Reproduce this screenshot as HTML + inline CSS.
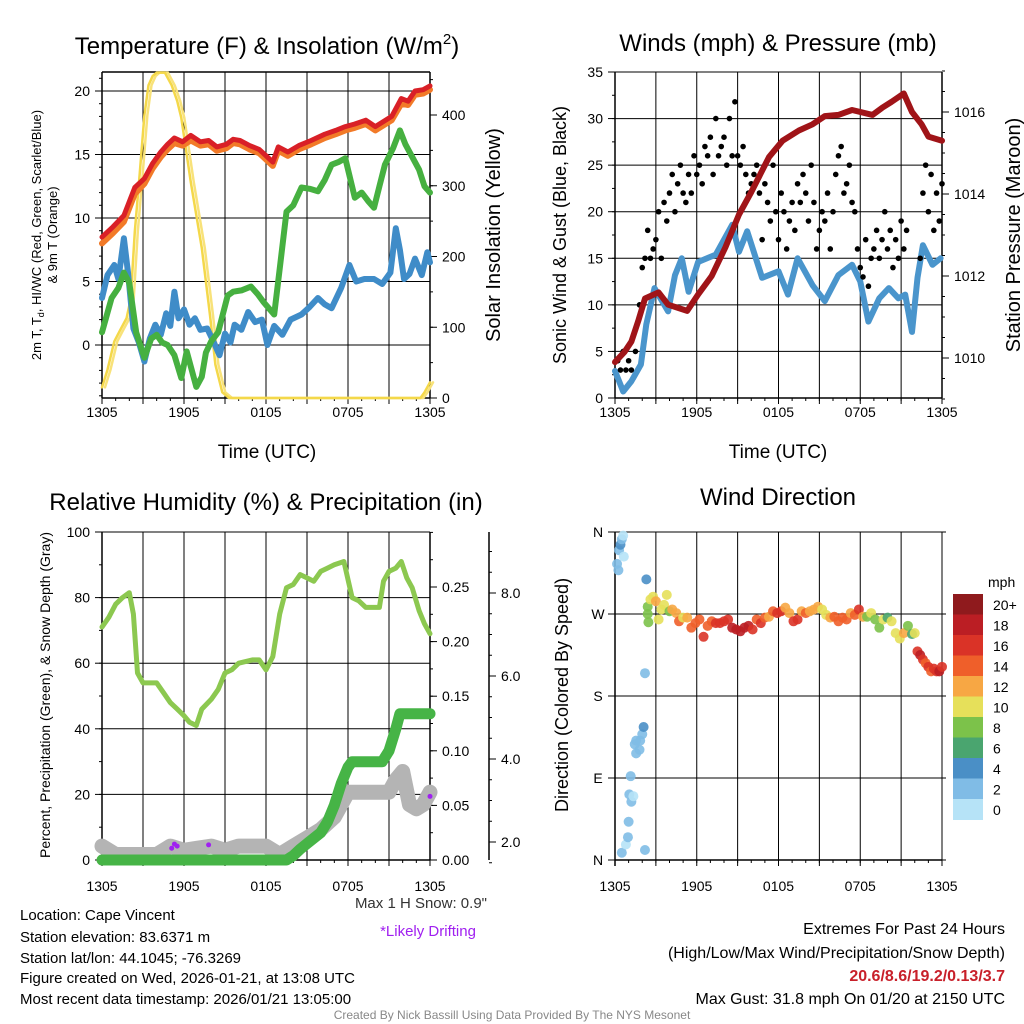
<!DOCTYPE html>
<html><head><meta charset="utf-8"><style>
body{margin:0;background:#fff}
svg{display:block;font-family:"Liberation Sans",sans-serif}
</style></head><body>
<svg id="s" width="1024" height="1024" viewBox="0 0 1024 1024">
<rect width="1024" height="1024" fill="#fff"/>
<text x="267" y="54" font-size="24" text-anchor="middle">Temperature (F) &amp; Insolation (W/m<tspan font-size="15" dy="-10">2</tspan><tspan dy="10">)</tspan></text>
<text x="778" y="51" font-size="24" text-anchor="middle">Winds (mph) &amp; Pressure (mb)</text>
<text x="266" y="510" font-size="24" text-anchor="middle">Relative Humidity (%) &amp; Precipitation (in)</text>
<text x="778" y="505" font-size="24" text-anchor="middle">Wind Direction</text>
<text x="267" y="458" font-size="19" text-anchor="middle">Time (UTC)</text>
<text x="778" y="458" font-size="19" text-anchor="middle">Time (UTC)</text>
<text transform="translate(41,235) rotate(-90)" font-size="13" text-anchor="middle">2m T, T<tspan font-size="9" dy="3">d</tspan><tspan dy="-3">, HI/WC (Red, Green, Scarlet/Blue)</tspan></text>
<text transform="translate(57,235) rotate(-90)" font-size="13" text-anchor="middle">&amp; 9m T (Orange)</text>
<text transform="translate(500,235) rotate(-90)" font-size="20" text-anchor="middle">Solar Insolation (Yellow)</text>
<text transform="translate(566,235) rotate(-90)" font-size="18" text-anchor="middle">Sonic Wind &amp; Gust (Blue, Black)</text>
<text transform="translate(1020,235) rotate(-90)" font-size="20" text-anchor="middle">Station Pressure (Maroon)</text>
<text transform="translate(50,695) rotate(-90)" font-size="14" text-anchor="middle">Percent, Precipitation (Green), &amp; Snow Depth (Gray)</text>
<text transform="translate(568,695) rotate(-90)" font-size="18" text-anchor="middle">Direction (Colored By Speed)</text>
<text x="988" y="587" font-size="14">mph</text>
<text x="487" y="908" font-size="15" text-anchor="end" fill="#333">Max 1 H Snow: 0.9"</text>
<text x="428" y="936" font-size="15" text-anchor="middle" fill="#a020f0">*Likely Drifting</text>
<g font-size="15">
<text x="20" y="920">Location: Cape Vincent</text>
<text x="20" y="942">Station elevation: 83.6371 m</text>
<text x="20" y="963">Station lat/lon: 44.1045; -76.3269</text>
<text x="20" y="983">Figure created on Wed, 2026-01-21, at 13:08 UTC</text>
<text x="20" y="1004">Most recent data timestamp: 2026/01/21 13:05:00</text>
</g>
<g font-size="16" text-anchor="end">
<text x="1005" y="934">Extremes For Past 24 Hours</text>
<text x="1005" y="958">(High/Low/Max Wind/Precipitation/Snow Depth)</text>
<text x="1005" y="981" fill="#c8202a" font-weight="bold">20.6/8.6/19.2/0.13/3.7</text>
<text x="1005" y="1004">Max Gust: 31.8 mph On 01/20 at 2150 UTC</text>
</g>
<text x="512" y="1019" font-size="12" fill="#888" text-anchor="middle">Created By Nick Bassill Using Data Provided By The NYS Mesonet</text>
</svg>
<script>
// ---- data ----
const tempT=[0,0.8,1.6,2.4,3.1,3.7,4.3,4.8,5.3,5.9,6.5,7.2,7.8,8.4,9.1,9.6,10.1,10.8,11.5,12.1,12.5,12.9,13.6,14.4,15.3,16.3,17.1,17.8,18.5,19.3,20.0,20.6,21.2,21.9,22.4,22.9,23.5,24];
const tempRed=[8.5,9.3,10.2,12.4,13.1,14.3,15.2,15.8,16.3,16.0,16.5,16.0,16.1,15.6,15.8,16.2,16.1,15.7,15.4,14.8,14.4,15.6,15.2,15.7,16.1,16.6,16.9,17.2,17.4,17.7,17.2,17.6,18.0,19.4,19.2,20.0,20.1,20.4];
const tempOrange=[8.0,8.8,9.7,11.9,12.7,13.9,14.8,15.4,15.9,15.7,16.1,15.7,15.8,15.3,15.5,15.9,15.8,15.4,15.1,14.5,14.1,15.3,14.9,15.4,15.8,16.3,16.6,16.9,17.1,17.4,16.9,17.3,17.7,19.0,18.9,19.7,19.8,20.1];
const dewT=[0,0.7,1.2,1.6,2.0,2.5,3.1,3.6,4.0,4.4,4.8,5.3,5.8,6.2,6.9,7.3,7.6,8.0,8.5,9.2,9.6,10.2,10.9,11.4,11.8,12.6,13.0,13.5,14.0,14.6,15.2,15.8,16.3,16.8,17.3,17.8,18.5,19.0,19.5,19.9,20.3,20.7,21.3,21.8,22.2,22.6,23.2,23.6,24];
const dewG=[1,3.7,4.5,5.7,4.9,1,-1,0.5,0.8,0.2,0,-0.8,-2.6,-0.5,-3.3,-2.5,-0.6,0.3,1,3.9,4.2,4.3,4.6,4.0,3.4,2.4,6,10.5,11,12.4,12.3,12.1,13,14.2,14.4,14.7,11.6,12,11.3,10.8,12.5,14.2,15.5,16.9,15.8,15,13.8,12.5,12.0];
const wcT=[0,0.4,0.9,1.2,1.6,1.9,2.3,2.7,3.1,3.5,3.9,4.3,4.7,5.0,5.3,5.6,6.0,6.4,6.8,7.2,7.7,8.1,8.6,9.0,9.4,9.7,10.2,10.7,11.2,11.7,12.1,12.6,13.2,13.8,14.6,15.2,15.8,16.3,16.8,17.5,18.1,18.6,19.2,19.9,20.5,21.1,21.5,21.8,22.1,22.5,22.9,23.4,23.8,24];
const windChill=[3.7,5.5,6.3,5.2,8.4,5.7,1.3,0.2,-1.3,0.5,1.6,0.8,2.5,1.5,4.2,2.1,2.8,1.6,2.1,1.2,1.3,0.4,-0.8,0.9,0.2,1.6,1.2,2.6,1.8,2.0,0,1.5,0.8,2.0,2.4,3.0,3.7,3.2,2.9,4.5,6.3,5.0,5.2,5.2,4.8,5.7,9.2,7.5,5.2,5.6,6.8,5.5,7.3,6.5];
const solT=[0,0.4,0.9,1.3,1.8,2.1,2.4,2.75,3.1,3.4,3.7,4.0,4.6,5.1,5.5,5.8,6.5,7.3,7.9,8.3,8.8,9.3,23.3,23.6,24];
const solV=[15,40,80,95,113,140,235,315,400,442,455,460,460,442,420,396,305,212,117,47,8,0,0,8,22];
const windT=[0,0.6,1.2,1.9,2.3,2.9,3.9,4.4,4.9,5.4,6.1,7.4,8.6,9.1,9.7,10.8,12.0,12.7,13.4,14.5,15.4,16.4,17.4,18.0,18.6,19.4,20.1,20.8,21.3,21.8,22.2,22.6,23.3,23.9];
const windV=[2.9,0.7,1.8,3.6,7.9,11.8,9.3,13.2,15,11.4,14.6,15.4,18.6,15.7,17.9,12.9,13.6,11.1,15,12.1,10.4,13.2,14.3,12.5,8.2,10.7,11.8,10.7,11.1,7.1,12.9,16.4,14.3,15];
const gustT=[0.2,0.4,0.6,0.8,1,1.2,1.5,1.8,2,2.2,2.4,2.6,2.8,3,3.2,3.4,3.6,3.8,4,4.2,4.4,4.6,4.8,5,5.2,5.4,5.6,5.8,6,6.2,6.4,6.6,6.8,7,7.2,7.4,7.6,7.8,8,8.2,8.4,8.6,8.8,9,9.2,9.4,9.6,9.8,10,10.2,10.4,10.6,10.8,11,11.2,11.4,11.6,11.8,12,12.2,12.4,12.6,12.8,13,13.2,13.4,13.6,13.8,14,14.2,14.4,14.6,14.8,15,15.2,15.4,15.6,15.8,16,16.2,16.4,16.6,16.8,17,17.2,17.4,17.6,17.8,18,18.2,18.4,18.6,18.8,19,19.2,19.4,19.6,19.8,20,20.2,20.4,20.6,20.8,21,21.2,21.4,22.4,22.6,22.8,23,23.2,23.4,23.6,23.8,24];
const gustV=[4,3,5,3,4,3,5,10,14,15,18,15,16,17,20,15,21,19,22,24,20,23,25,22,21,24,22,26,24,25,23,27,26,28,24,30,26,27,28,25,30,26,31.8,26,25,27,24,22,23,24,25,22,17,23,21,19,25,20,17,22,20,16,19,21,18,23,21,24,22,19,25,21,16,18,20,19,22,16,20,24,26,27,22,23,25,21,20,16,14,13,17,12,15,16,18,15,17,20,16,18,14,17,15,19,16,18,15,22,25,20,24,18,22,19,23,21];
const presT=[0,0.7,1.2,1.7,2.2,3.2,3.9,5.3,6.1,7.1,8.1,9.1,10.0,11.3,12.3,13.5,14.5,15.4,16.4,17.4,18.9,19.6,20.3,21.2,21.8,22.5,23.0,24];
const presV=[1009.9,1010.15,1010.4,1010.9,1011.45,1011.6,1011.3,1011.15,1011.55,1012.0,1012.7,1013.5,1014.05,1014.9,1015.3,1015.55,1015.7,1015.9,1015.93,1016.05,1015.93,1016.1,1016.25,1016.45,1016.0,1015.7,1015.4,1015.3];
const rhT=[0,0.5,1,1.5,2,2.3,2.6,3,4,4.5,5,5.5,6,6.4,6.9,7.3,8,8.5,9,9.5,10,11,11.5,12,12.5,13,13.5,14,14.5,15,15.5,16,16.5,17,17.7,18.3,18.8,19.3,19.8,20.3,20.6,21,21.5,21.9,22.3,22.7,23.2,23.6,24];
const rhV=[71,74,78,80,81.5,75,57,54,54,51,48,46,44,42,41,46,49,52,57,58,60,61,61,58,62,75,83,84,87,86,85,88,89,90,91,80,79,77,77,77,85,88,89,91,86,83,76,72,69];
const precipT=[0,13.5,14,14.5,15,15.5,16,16.5,17,17.5,18,18.3,20.5,21,21.5,21.8,24];
const precipV=[0,0,0.004,0.01,0.015,0.02,0.025,0.035,0.05,0.07,0.085,0.09,0.09,0.1,0.12,0.134,0.134];
const snowT=[0,1,2,3,4,5,6,7,8,9,10,11,12,13,14,15,16,17,18,18.5,21,21.5,22,22.5,23,23.5,24];
const snowV=[1.9,1.7,1.7,1.7,1.7,1.9,1.8,1.85,1.9,1.8,1.9,1.9,1.9,1.7,1.9,2.1,2.3,2.6,3.2,3.2,3.2,3.5,3.7,2.9,2.8,2.9,3.2];
const driftT=[5.1,5.3,5.5,7.8,24];
const driftV=[1.85,1.95,1.9,1.93,3.1];
const dirT=[0.15,0.25,0.3,0.4,0.5,0.6,0.65,0.5,0.8,0.95,1.0,1.05,1.2,1.35,1.15,1.45,1.55,1.55,1.8,1.85,2.0,2.1,2.2,2.2,2.3,2.4,2.4,2.45,2.6,2.8,3.0,3.2,3.4,3.6,3.8,4.0,4.2,4.5,4.7,5.0,5.3,5.6,5.9,6.2,6.5,6.8,7.1,7.4,7.7,8.0,8.3,8.6,8.9,9.2,9.5,9.8,10.1,10.4,10.7,11.0,11.3,11.6,11.9,12.2,12.5,12.8,13.1,13.4,13.7,14.0,14.3,14.6,14.9,15.2,15.5,15.8,16.1,16.4,16.7,17.0,17.3,17.6,17.9,18.2,18.5,18.8,19.1,19.4,19.7,20.0,20.3,20.6,20.9,21.2,21.5,21.8,22.0,22.2,22.4,22.6,22.8,23.0,23.2,23.4,23.6,23.8,24.0];
const dirV=[325,318,340,346,352,356,333,8,17,25,42,72,64,70,92,127,117,131,121,131,138,146,205,11,308,278,270,261,286,289,284,264,275,280,291,273,275,271,262,266,266,255,260,264,245,257,262,260,260,262,264,255,253,251,255,257,253,264,260,266,267,273,271,273,277,271,262,264,273,271,273,275,278,275,269,266,267,262,266,264,271,269,275,267,267,271,264,255,264,266,262,249,243,249,257,248,249,229,225,220,216,212,207,210,207,207,212];
const dirS=[2,2,2,4,2,0,0,2,0,2,2,2,2,0,2,2,2,2,2,2,2,4,2,2,4,8,8,8,10,10,12,10,10,10,10,8,12,12,14,10,12,14,14,14,16,14,14,16,16,16,16,18,18,18,18,18,16,14,16,14,12,14,16,16,12,12,16,16,12,14,12,12,12,10,10,12,14,14,14,14,12,14,16,12,8,10,8,8,10,6,10,10,10,12,8,6,10,16,18,16,14,16,14,16,16,18,16];
const cbLabels=['20+','18','16','14','12','10','8','6','4','2','0'];
const cbColors=['#8f1a1d','#bb1e24','#da3327','#ef5f2a','#f7a744','#e6e05a','#7cc24a','#4aa56f','#4a8fc6','#80bce6','#b6e3f7'];
const timeLabels=['1305','1905','0105','0705','1305'];
const tempTicks=[0,5,10,15,20];
const solTicks=[0,100,200,300,400];
const windTicks=[0,5,10,15,20,25,30,35];
const presTicks=[1010,1012,1014,1016];
const rhTicks=[0,20,40,60,80,100];
const precipTicks=[0,0.05,0.1,0.15,0.2,0.25];
const snowTicks=[2,4,6,8];
const dirTicks=['N','E','S','W','N'];

// ---- helpers ----
const NS='http://www.w3.org/2000/svg';
const svg=document.getElementById('s');
function el(tag,attrs,parent){const e=document.createElementNS(NS,tag);for(const k in attrs)e.setAttribute(k,attrs[k]);(parent||svg).appendChild(e);return e;}
function lin(d0,d1,r0,r1){return v=>r0+(v-d0)*(r1-r0)/(d1-d0);}
function pathD(xs,ys,fx,fy){return xs.map((t,i)=>(i?'L':'M')+fx(t).toFixed(1)+','+fy(ys[i]).toFixed(1)).join('');}

function timeAxis(g,x0,x1,yb,ytop,lblOff){
  const fx=lin(0,24,x0,x1);
  for(let h=0;h<=24;h+=3){
    const l=el('line',{x1:fx(h),x2:fx(h),y1:ytop,y2:yb+6,stroke:'#000','stroke-width':1},g);
    
    
  }
  for(let h=0;h<=24;h+=1){el('line',{x1:fx(h),x2:fx(h),y1:yb,y2:yb+3,stroke:'#000','stroke-width':1},g);}
  el('line',{x1:x0,x2:x1,y1:yb,y2:yb,stroke:'#000','stroke-width':1.5},g);
  timeLabels.forEach((s,i)=>{
    const t=el('text',{x:fx(i*6),y:yb+lblOff,'font-size':14,'text-anchor':'middle'},g);t.textContent=s;
    
    
  });
  return fx;
}
function yAxis(g,x,ticks,fy,side,fmt,x0,x1,grid,minor){
  el('line',{x1:x,x2:x,y1:fy.top,y2:fy.bot,stroke:'#000','stroke-width':1.5},g);
  (minor||[]).forEach(v=>{el('line',{x1:x,x2:x+(side<0?-3:3),y1:fy(v),y2:fy(v),stroke:'#000'},g);});
  ticks.forEach(v=>{
    const y=fy(v);
    if(grid) el('line',{x1:x0,x2:x1,y1:y,y2:y,stroke:'#000','stroke-width':1},g);
    el('line',{x1:x,x2:x+side*7,y1:y,y2:y,stroke:'#000'},g);
    const t=el('text',{x:x+side*12,y:y+5,'font-size':14,'text-anchor':side<0?'end':'start'},g);t.textContent=fmt(v);
    
    
  });
}
function range(a,b,s){const r=[];for(let v=a;v<=b+1e-9;v+=s)r.push(+v.toFixed(3));return r;}
function line(g,xs,ys,fx,fy,color,w,name){
  const p=el('path',{d:pathD(xs,ys,fx,fy),fill:'none',stroke:color,'stroke-width':w,'stroke-linejoin':'round','stroke-linecap':'round'},g);
  
  
  return p;
}

// ---- panel 1 ----
{
const g=el('g',{});


const X0=102,X1=430,YT=72,YB=398;
const fy=lin(0,20,345,91);fy.top=YT;fy.bot=YB;
const fs=lin(0,400,398,115);fs.top=YT;fs.bot=YB;
el('line',{x1:X0,x2:X1,y1:YT,y2:YT,stroke:'#000','stroke-width':1.5},g);
yAxis(g,X0,tempTicks,fy,-1,v=>v,X0,X1,true,range(-4,21,1));
yAxis(g,X1,solTicks,fs,1,v=>v,X0,X1,false,range(0,450,50));
const fx=timeAxis(g,X0,X1,YB,YT,19);
line(g,solT,solV,fx,fs,'#f8e27a',2.5,'insolation-line-2').setAttribute('transform','translate(3,0)');
line(g,solT,solV,fx,fs,'#f4d84a',2.5,'insolation-line');
line(g,wcT,windChill,fx,fy,'#3f8cc8',6,'windchill-line');
line(g,dewT,dewG,fx,fy,'#46b040',6,'dewpoint-line');
line(g,tempT,tempOrange,fx,fy,'#f27a28',6,'temp-9m-line');
line(g,tempT,tempRed,fx,fy,'#d92027',5,'temp-2m-line');
}
// ---- panel 2 ----
{
const g=el('g',{});


const X0=615,X1=942,YT=72,YB=398;
const fy=lin(0,35,398,72);fy.top=YT;fy.bot=YB;
const fp=lin(1010,1016,358,112);fp.top=YT;fp.bot=YB;
yAxis(g,X0,windTicks,fy,-1,v=>v,X0,X1,true,range(0,35,2.5));
yAxis(g,X1,presTicks,fp,1,v=>v,X0,X1,false,range(1009,1017,0.5));
const fx=timeAxis(g,X0,X1,YB,YT,19);
line(g,windT,windV,fx,fy,'#4a95cc',6,'wind-speed-line');
gustT.forEach((t,i)=>{
  const c=el('circle',{cx:fx(t),cy:fy(gustV[i]),r:2.8,fill:'#000'},g);
  
  
});
line(g,presT,presV,fx,fp,'#a01418',6,'pressure-line');
}
// ---- panel 3 ----
{
const g=el('g',{});


const X0=102,X1=430,YT=532,YB=860;
const fy=lin(0,100,860,532);fy.top=YT;fy.bot=YB;
const fp=lin(0,0.25,860,587);fp.top=YT;fp.bot=YB;
const fsn=lin(2,8,842,593);fsn.top=YT;fsn.bot=YB;
yAxis(g,X0,rhTicks,fy,-1,v=>v,X0,X1,true,range(0,100,10));
yAxis(g,X1,precipTicks,fp,1,v=>v.toFixed(2),X0,X1,false,range(0,0.3,0.025));
yAxis(g,489,snowTicks,fsn,1,v=>v.toFixed(1),X0,X1,false,range(1.5,9,0.5));
const fx=timeAxis(g,X0,X1,YB,YT,31);
line(g,snowT,snowV,fx,fsn,'#b4b4b4',15,'snow-depth-line');
line(g,rhT,rhV,fx,fy,'#8cc850',5,'rh-line');
line(g,precipT,precipV,fx,fp,'#46b446',11,'precip-line');
driftT.forEach((t,i)=>{
  const c=el('circle',{cx:fx(t),cy:fsn(driftV[i]),r:2.5,fill:'#a020f0'},g);
  
  
});
}
// ---- panel 4 ----
{
const g=el('g',{});


const X0=615,X1=942,YT=532,YB=860;
const fd=lin(0,360,860,532);fd.top=YT;fd.bot=YB;
el('line',{x1:X1,x2:X1,y1:YT,y2:YB+6,stroke:'#000'},g);
dirTicks.forEach((s,i)=>{
  const y=fd(i*90);
  el('line',{x1:X0-7,x2:X1+4,y1:y,y2:y,stroke:'#000'},g);
  const t=el('text',{x:X0-17,y:y+5,'font-size':14,'text-anchor':'middle'},g);t.textContent=s;
  
  
});
el('line',{x1:X0,x2:X0,y1:YT,y2:YB+6,stroke:'#000','stroke-width':1.5},g);
const fx=timeAxis(g,X0,X1,YB,YT,31);
dirT.forEach((t,i)=>{
  const idx=10-Math.min(10,Math.floor(dirS[i]/2));
  const c=el('circle',{cx:fx(t),cy:fd(dirV[i]),r:5,fill:cbColors[idx],'fill-opacity':0.9},g);
  
  
});
cbLabels.forEach((s,i)=>{
  const y=594+i*20.5;
  const r=el('rect',{x:953,y:y,width:30,height:21,fill:cbColors[i]},g);
  
  
  const t=el('text',{x:993,y:y+16,'font-size':14},g);t.textContent=s;
  
  
});
}
</script>
</body></html>
